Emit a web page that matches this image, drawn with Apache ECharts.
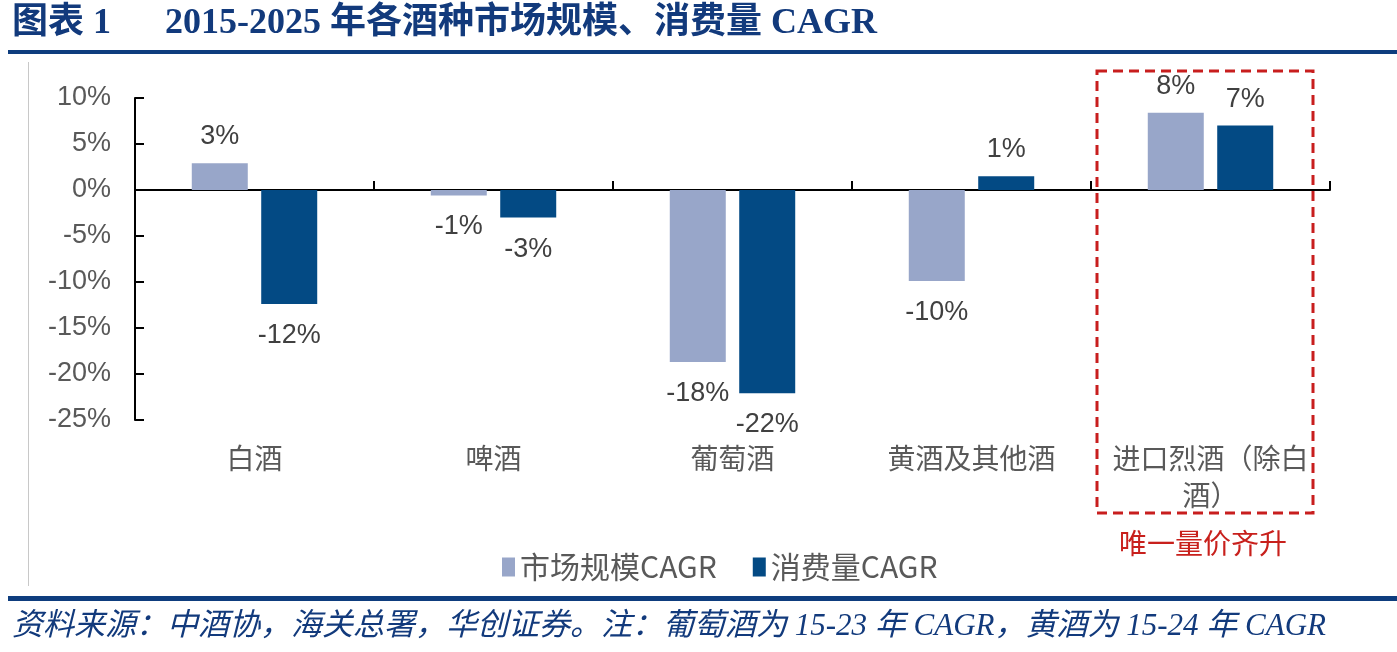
<!DOCTYPE html>
<html>
<head>
<meta charset="utf-8">
<script src="https://cdn.jsdelivr.net/npm/echarts@6/dist/echarts.min.js"></script>
<style>
html,body{margin:0;padding:0;background:#fff;}
#chart{width:1397px;height:652px;}
</style>
</head>
<body>
<div id="chart"></div>
<script>
// ---- data ----
const categories = ['白酒', '啤酒', '葡萄酒', '黄酒及其他酒', '进口烈酒（除白酒）'];
const seriesNames = ['市场规模CAGR', '消费量CAGR'];
const marketCAGR = [2.9, -0.6, -18.7, -9.9, 8.4];
const volumeCAGR = [-12.4, -3.0, -22.1, 1.5, 7.0];
const marketLabels = ['3%', '-1%', '-18%', '-10%', '8%'];
const volumeLabels = ['-12%', '-3%', '-22%', '1%', '7%'];
const yTicks = { min: -25, max: 10, interval: 5 };
const titleText = '图表 1      2015-2025 年各酒种市场规模、消费量 CAGR';
const sourceText = '资料来源：中酒协，海关总署，华创证券。注：葡萄酒为 15-23 年 CAGR，黄酒为 15-24 年 CAGR';
const noteText = '唯一量价齐升';

const sansFont = '"Liberation Sans", Arial, "Noto Sans CJK SC", sans-serif';
const cjkFont = '"Noto Sans CJK SC", "Liberation Sans", sans-serif';
const serifFont = '"Liberation Serif", "Times New Roman", "Noto Sans CJK SC", serif';

function buildData(values, labels) {
  return values.map((v, i) => ({
    value: v,
    label: {
      position: v >= 0 ? 'top' : 'bottom',
      distance: v >= 0 ? 13 : 18,
      formatter: labels[i]
    }
  }));
}

const chart = echarts.init(document.getElementById('chart'));
const option = {
  backgroundColor: '#ffffff',
  animation: false,
  grid: { left: 135, right: 67, top: 98, bottom: 232, containLabel: false },
  legend: {
    data: seriesNames,
    left: 497,
    top: 547,
    icon: 'rect',
    itemWidth: 13,
    itemHeight: 19,
    itemGap: 36,
    textStyle: { fontSize: 30, color: '#595959', fontFamily: cjkFont }
  },
  xAxis: [
    {
      type: 'category',
      data: categories,
      position: 'bottom',
      axisLine: { onZero: true, lineStyle: { color: '#000', width: 2 } },
      axisTick: { show: true, inside: true, length: 9, lineStyle: { color: '#000', width: 2 } },
      axisLabel: { show: false }
    },
    {
      type: 'category',
      data: categories,
      position: 'bottom',
      axisLine: { show: false, onZero: false },
      axisTick: { show: false },
      axisLabel: {
        margin: 20,
        fontSize: 28,
        lineHeight: 37,
        color: '#595959',
        fontFamily: cjkFont,
        width: 205,
        overflow: 'break',
        interval: 0
      }
    }
  ],
  yAxis: {
    type: 'value',
    min: yTicks.min,
    max: yTicks.max,
    interval: yTicks.interval,
    axisLine: { show: true, lineStyle: { color: '#000', width: 2 } },
    axisTick: { show: true, inside: true, length: 9, lineStyle: { color: '#000', width: 2 } },
    splitLine: { show: false },
    axisLabel: {
      margin: 24,
      fontSize: 27,
      color: '#595959',
      fontFamily: sansFont,
      formatter: v => v + '%'
    }
  },
  series: [
    {
      name: seriesNames[0],
      type: 'bar',
      xAxisIndex: 0,
      barWidth: 56,
      barGap: '24%',
      itemStyle: { color: '#98A6C9' },
      label: { show: true, fontSize: 27, color: '#404040', fontFamily: sansFont },
      data: buildData(marketCAGR, marketLabels)
    },
    {
      name: seriesNames[1],
      type: 'bar',
      xAxisIndex: 0,
      barWidth: 56,
      barGap: '24%',
      itemStyle: { color: '#034A84' },
      label: { show: true, fontSize: 27, color: '#404040', fontFamily: sansFont },
      data: buildData(volumeCAGR, volumeLabels)
    }
  ],
  graphic: [
    {
      type: 'text', left: 12, top: 6, z: 10,
      style: { text: titleText, fontSize: 36, fontWeight: 'bold', fontFamily: serifFont, fill: '#123A7C' }
    },
    { type: 'rect', left: 8, top: 50, shape: { width: 1389, height: 4 }, style: { fill: '#0E3D7E' } },
    { type: 'rect', left: 28, top: 62, shape: { width: 1, height: 524 }, style: { fill: '#C8C8C8' } },
    { type: 'rect', left: 8, top: 596, shape: { width: 1389, height: 5 }, style: { fill: '#0E3D7E' } },
    {
      type: 'text', left: 12, top: 611, z: 10,
      style: { text: sourceText, fontSize: 31, fontStyle: 'italic', fontFamily: serifFont, fill: '#123A7C' }
    },
    {
      type: 'rect', z: 20,
      shape: { x: 1097, y: 71, width: 216, height: 442 },
      style: { fill: 'none', stroke: '#C81E1E', lineWidth: 3, lineDash: [10, 6] }
    },
    {
      type: 'text', left: 1119, top: 529, z: 10,
      style: { text: noteText, fontSize: 28, fontFamily: cjkFont, fill: '#C8201C' }
    }
  ]
};
chart.setOption(option);
</script>
</body>
</html>
